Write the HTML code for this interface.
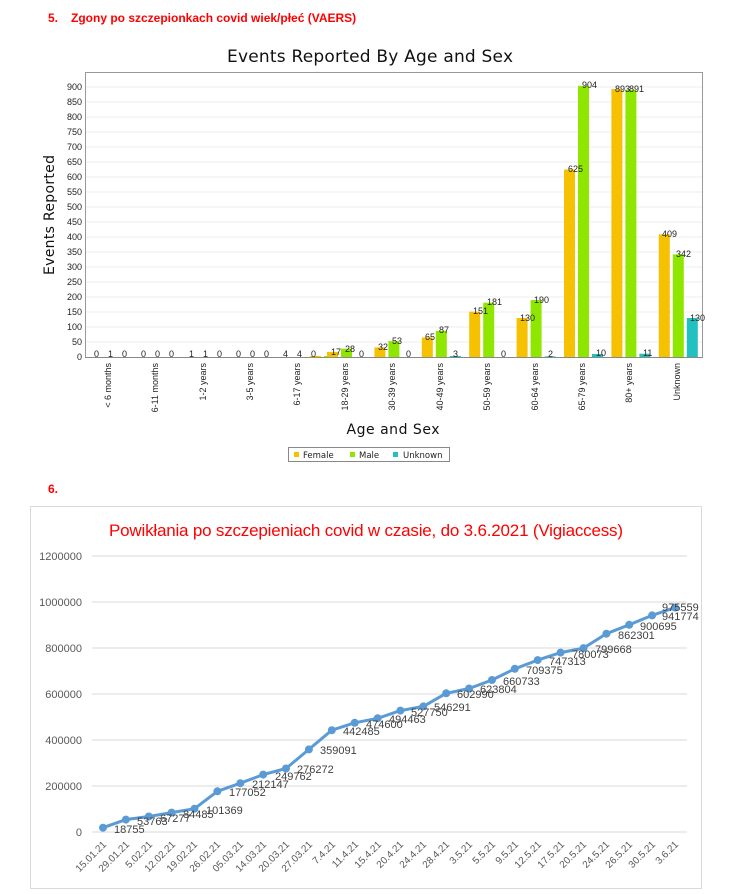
<!DOCTYPE html>
<html><head><meta charset="utf-8"><style>
body{margin:0;background:#fff;width:736px;height:894px;overflow:hidden}
svg{display:block}
</style></head><body>
<svg width="736" height="894" viewBox="0 0 736 894" xmlns="http://www.w3.org/2000/svg">
<g font-family="Liberation Sans, Arial, sans-serif" font-weight="bold" fill="#ff0000" font-size="12">
<text x="48" y="22">5.</text>
<text x="71" y="22">Zgony po szczepionkach covid wiek/płeć (VAERS)</text>
<text x="48" y="493">6.</text>
</g>
<!-- Chart 1 -->
<text x="370" y="62" text-anchor="middle" font-family="DejaVu Sans, sans-serif" font-size="17" textLength="286" fill="#111">Events Reported By Age and Sex</text>
<rect x="85.5" y="72.5" width="617" height="285" fill="#fff" stroke="#999"/>
<g stroke="#ececec" stroke-width="1">
<line x1="86" x2="702" y1="342" y2="342"/><line x1="86" x2="702" y1="327" y2="327"/><line x1="86" x2="702" y1="312" y2="312"/><line x1="86" x2="702" y1="297" y2="297"/><line x1="86" x2="702" y1="282" y2="282"/><line x1="86" x2="702" y1="267" y2="267"/><line x1="86" x2="702" y1="252" y2="252"/><line x1="86" x2="702" y1="237" y2="237"/><line x1="86" x2="702" y1="222" y2="222"/><line x1="86" x2="702" y1="207" y2="207"/><line x1="86" x2="702" y1="192" y2="192"/><line x1="86" x2="702" y1="177" y2="177"/><line x1="86" x2="702" y1="162" y2="162"/><line x1="86" x2="702" y1="147" y2="147"/><line x1="86" x2="702" y1="132" y2="132"/><line x1="86" x2="702" y1="117" y2="117"/><line x1="86" x2="702" y1="102" y2="102"/><line x1="86" x2="702" y1="87" y2="87"/>
</g>
<line x1="85" x2="702" y1="357.5" y2="357.5" stroke="#888"/>
<g font-family="Liberation Sans, sans-serif" font-size="9" fill="#222" text-anchor="end">
<text x="82" y="360">0</text><text x="82" y="345">50</text><text x="82" y="330">100</text><text x="82" y="315">150</text><text x="82" y="300">200</text><text x="82" y="285">250</text><text x="82" y="270">300</text><text x="82" y="255">350</text><text x="82" y="240">400</text><text x="82" y="225">450</text><text x="82" y="210">500</text><text x="82" y="195">550</text><text x="82" y="180">600</text><text x="82" y="165">650</text><text x="82" y="150">700</text><text x="82" y="135">750</text><text x="82" y="120">800</text><text x="82" y="105">850</text><text x="82" y="90">900</text>
</g>
<text transform="translate(54,215) rotate(-90)" text-anchor="middle" font-family="DejaVu Sans, sans-serif" font-size="14" fill="#111" textLength="120">Events Reported</text>
<!-- bars -->
<g>
<rect x="310" y="356" width="11" height="1.2" fill="#f5c100"/><rect x="324" y="356" width="11" height="1.2" fill="#8fe600"/>
<rect x="327" y="351.9" width="11" height="5.1" fill="#f5c100"/><rect x="341" y="348.6" width="11" height="8.4" fill="#8fe600"/>
<rect x="374.4" y="347.4" width="11" height="9.6" fill="#f5c100"/><rect x="388.4" y="341.1" width="11" height="15.9" fill="#8fe600"/>
<rect x="421.8" y="337.5" width="11" height="19.5" fill="#f5c100"/><rect x="435.8" y="330.9" width="11" height="26.1" fill="#8fe600"/><rect x="449.8" y="356" width="11" height="1" fill="#22c1c1"/>
<rect x="469.2" y="311.7" width="11" height="45.3" fill="#f5c100"/><rect x="483.2" y="302.7" width="11" height="54.3" fill="#8fe600"/>
<rect x="516.6" y="318" width="11" height="39" fill="#f5c100"/><rect x="530.6" y="300" width="11" height="57" fill="#8fe600"/><rect x="544.6" y="356.4" width="11" height="0.6" fill="#22c1c1"/>
<rect x="564" y="169.5" width="11" height="187.5" fill="#f5c100"/><rect x="578" y="85.8" width="11" height="271.2" fill="#8fe600"/><rect x="592" y="354" width="11" height="3" fill="#22c1c1"/>
<rect x="611.4" y="89.1" width="11" height="267.9" fill="#f5c100"/><rect x="625.4" y="89.7" width="11" height="267.3" fill="#8fe600"/><rect x="639.4" y="353.7" width="11" height="3.3" fill="#22c1c1"/>
<rect x="658.8" y="234.3" width="11" height="122.7" fill="#f5c100"/><rect x="672.8" y="254.4" width="11" height="102.6" fill="#8fe600"/><rect x="686.8" y="318" width="11" height="39" fill="#22c1c1"/>
</g>
<g font-family="Liberation Sans, sans-serif" font-size="9" fill="#222">
<text x="94" y="357">0</text><text x="108" y="357">1</text><text x="122" y="357">0</text>
<text x="141" y="357">0</text><text x="155" y="357">0</text><text x="169" y="357">0</text>
<text x="189" y="357">1</text><text x="203" y="357">1</text><text x="217" y="357">0</text>
<text x="236" y="357">0</text><text x="250" y="357">0</text><text x="264" y="357">0</text>
<text x="283" y="357">4</text><text x="297" y="357">4</text><text x="311" y="357">0</text>
<text x="331" y="355">17</text><text x="345" y="352">28</text><text x="359" y="357">0</text>
<text x="378" y="350">32</text><text x="392" y="344">53</text><text x="406" y="357">0</text>
<text x="425" y="340">65</text><text x="439" y="333">87</text><text x="453" y="357">3</text>
<text x="473" y="314">151</text><text x="487" y="305">181</text><text x="501" y="357">0</text>
<text x="520" y="321">130</text><text x="534" y="303">190</text><text x="548" y="357">2</text>
<text x="568" y="172">625</text><text x="582" y="88">904</text><text x="596" y="356">10</text>
<text x="615" y="92">893</text><text x="629" y="92">891</text><text x="643" y="356">11</text>
<text x="662" y="237">409</text><text x="676" y="257">342</text><text x="690" y="321">130</text>
</g>
<g font-family="Liberation Sans, sans-serif" font-size="9" fill="#222" text-anchor="end">
<text transform="translate(111,363) rotate(-90)">&lt; 6 months</text>
<text transform="translate(158,363) rotate(-90)">6-11 months</text>
<text transform="translate(206,363) rotate(-90)">1-2 years</text>
<text transform="translate(253,363) rotate(-90)">3-5 years</text>
<text transform="translate(300,363) rotate(-90)">6-17 years</text>
<text transform="translate(348,363) rotate(-90)">18-29 years</text>
<text transform="translate(395,363) rotate(-90)">30-39 years</text>
<text transform="translate(443,363) rotate(-90)">40-49 years</text>
<text transform="translate(490,363) rotate(-90)">50-59 years</text>
<text transform="translate(538,363) rotate(-90)">60-64 years</text>
<text transform="translate(585,363) rotate(-90)">65-79 years</text>
<text transform="translate(632,363) rotate(-90)">80+ years</text>
<text transform="translate(680,363) rotate(-90)">Unknown</text>
</g>
<text x="393" y="434" text-anchor="middle" font-family="DejaVu Sans, sans-serif" font-size="14" fill="#111" textLength="93">Age and Sex</text>
<rect x="288.5" y="447.5" width="161" height="14" fill="#fff" stroke="#888"/>
<g font-family="DejaVu Sans, sans-serif" font-size="8.5" fill="#222">
<rect x="294" y="452" width="5" height="5" fill="#f5c100"/><text x="303" y="458">Female</text>
<rect x="350" y="452" width="5" height="5" fill="#8fe600"/><text x="359" y="458">Male</text>
<rect x="393" y="452" width="5" height="5" fill="#22c1c1"/><text x="403" y="458">Unknown</text>
</g>
<!-- Chart 2 -->
<rect x="30.5" y="506.5" width="671" height="382" fill="#fff" stroke="#d9d9d9"/>
<text x="366" y="536" text-anchor="middle" font-family="Liberation Sans, sans-serif" font-size="17" fill="#ff0000" textLength="514">Powikłania po szczepieniach covid w czasie, do 3.6.2021 (Vigiaccess)</text>
<g stroke="#d9d9d9" stroke-width="1">
<line x1="92" x2="687" y1="556" y2="556"/><line x1="92" x2="687" y1="602" y2="602"/><line x1="92" x2="687" y1="648" y2="648"/><line x1="92" x2="687" y1="694" y2="694"/><line x1="92" x2="687" y1="740" y2="740"/><line x1="92" x2="687" y1="786" y2="786"/><line x1="92" x2="687" y1="832" y2="832"/>
</g>
<g font-family="Liberation Sans, sans-serif" font-size="11" fill="#595959" text-anchor="end">
<text x="82" y="560">1200000</text><text x="82" y="606">1000000</text><text x="82" y="652">800000</text><text x="82" y="698">600000</text><text x="82" y="744">400000</text><text x="82" y="790">200000</text><text x="82" y="836">0</text>
</g>
<polyline fill="none" stroke="#5b9bd5" stroke-width="3" stroke-linejoin="round" points="103,827.7 125.9,819.6 148.8,816.5 171.6,812.6 194.5,808.7 217.4,791.3 240.3,783.2 263.2,774.6 286,768.5 308.9,749.4 331.8,730.2 354.7,722.8 377.6,718.3 400.4,710.6 423.3,706.4 446.2,693.3 469.1,688.5 492,680 514.8,668.8 537.7,660.1 560.6,652.6 583.5,648.1 606.4,633.7 629.2,624.8 652.1,615.4 675,607.6"/>
<g fill="#5b9bd5">
<circle cx="103" cy="827.7" r="4"/><circle cx="125.9" cy="819.6" r="4"/><circle cx="148.8" cy="816.5" r="4"/><circle cx="171.6" cy="812.6" r="4"/><circle cx="194.5" cy="808.7" r="4"/><circle cx="217.4" cy="791.3" r="4"/><circle cx="240.3" cy="783.2" r="4"/><circle cx="263.2" cy="774.6" r="4"/><circle cx="286" cy="768.5" r="4"/><circle cx="308.9" cy="749.4" r="4"/><circle cx="331.8" cy="730.2" r="4"/><circle cx="354.7" cy="722.8" r="4"/><circle cx="377.6" cy="718.3" r="4"/><circle cx="400.4" cy="710.6" r="4"/><circle cx="423.3" cy="706.4" r="4"/><circle cx="446.2" cy="693.3" r="4"/><circle cx="469.1" cy="688.5" r="4"/><circle cx="492" cy="680" r="4"/><circle cx="514.8" cy="668.8" r="4"/><circle cx="537.7" cy="660.1" r="4"/><circle cx="560.6" cy="652.6" r="4"/><circle cx="583.5" cy="648.1" r="4"/><circle cx="606.4" cy="633.7" r="4"/><circle cx="629.2" cy="624.8" r="4"/><circle cx="652.1" cy="615.4" r="4"/><circle cx="675" cy="607.6" r="4"/>
</g>
<g font-family="Liberation Sans, sans-serif" font-size="11" fill="#404040">
<text x="114" y="833">18755</text><text x="137" y="825">53763</text><text x="160" y="822">67277</text><text x="183" y="818">84485</text><text x="206" y="814">101369</text><text x="229" y="796">177052</text><text x="252" y="788">212147</text><text x="275" y="780">249762</text><text x="297" y="773">276272</text><text x="320" y="754">359091</text><text x="343" y="735">442485</text><text x="366" y="728">474600</text><text x="389" y="723">494463</text><text x="411" y="716">527750</text><text x="434" y="711">546291</text><text x="457" y="698">602990</text><text x="480" y="693">623804</text><text x="503" y="685">660733</text><text x="526" y="674">709375</text><text x="549" y="665">747313</text><text x="572" y="658">780073</text><text x="595" y="653">799668</text><text x="618" y="639">862301</text><text x="640" y="630">900695</text><text x="662" y="620">941774</text><text x="662" y="611">975559</text>
</g>
<g font-family="Liberation Sans, sans-serif" font-size="10" fill="#595959" text-anchor="end">
<text transform="translate(107,845) rotate(-45)">15.01.21</text><text transform="translate(130,845) rotate(-45)">29.01.21</text><text transform="translate(153,845) rotate(-45)">5.02.21</text><text transform="translate(176,845) rotate(-45)">12.02.21</text><text transform="translate(198,845) rotate(-45)">19.02.21</text><text transform="translate(221,845) rotate(-45)">26.02.21</text><text transform="translate(244,845) rotate(-45)">05.03.21</text><text transform="translate(267,845) rotate(-45)">14.03.21</text><text transform="translate(290,845) rotate(-45)">20.03.21</text><text transform="translate(313,845) rotate(-45)">27.03.21</text><text transform="translate(336,845) rotate(-45)">7.4.21</text><text transform="translate(359,845) rotate(-45)">11.4.21</text><text transform="translate(382,845) rotate(-45)">15.4.21</text><text transform="translate(404,845) rotate(-45)">20.4.21</text><text transform="translate(427,845) rotate(-45)">24.4.21</text><text transform="translate(450,845) rotate(-45)">28.4.21</text><text transform="translate(473,845) rotate(-45)">3.5.21</text><text transform="translate(496,845) rotate(-45)">5.5.21</text><text transform="translate(519,845) rotate(-45)">9.5.21</text><text transform="translate(542,845) rotate(-45)">12.5.21</text><text transform="translate(565,845) rotate(-45)">17.5.21</text><text transform="translate(587,845) rotate(-45)">20.5.21</text><text transform="translate(610,845) rotate(-45)">24.5.21</text><text transform="translate(633,845) rotate(-45)">26.5.21</text><text transform="translate(656,845) rotate(-45)">30.5.21</text><text transform="translate(679,845) rotate(-45)">3.6.21</text>
</g>
</svg>
</body></html>
